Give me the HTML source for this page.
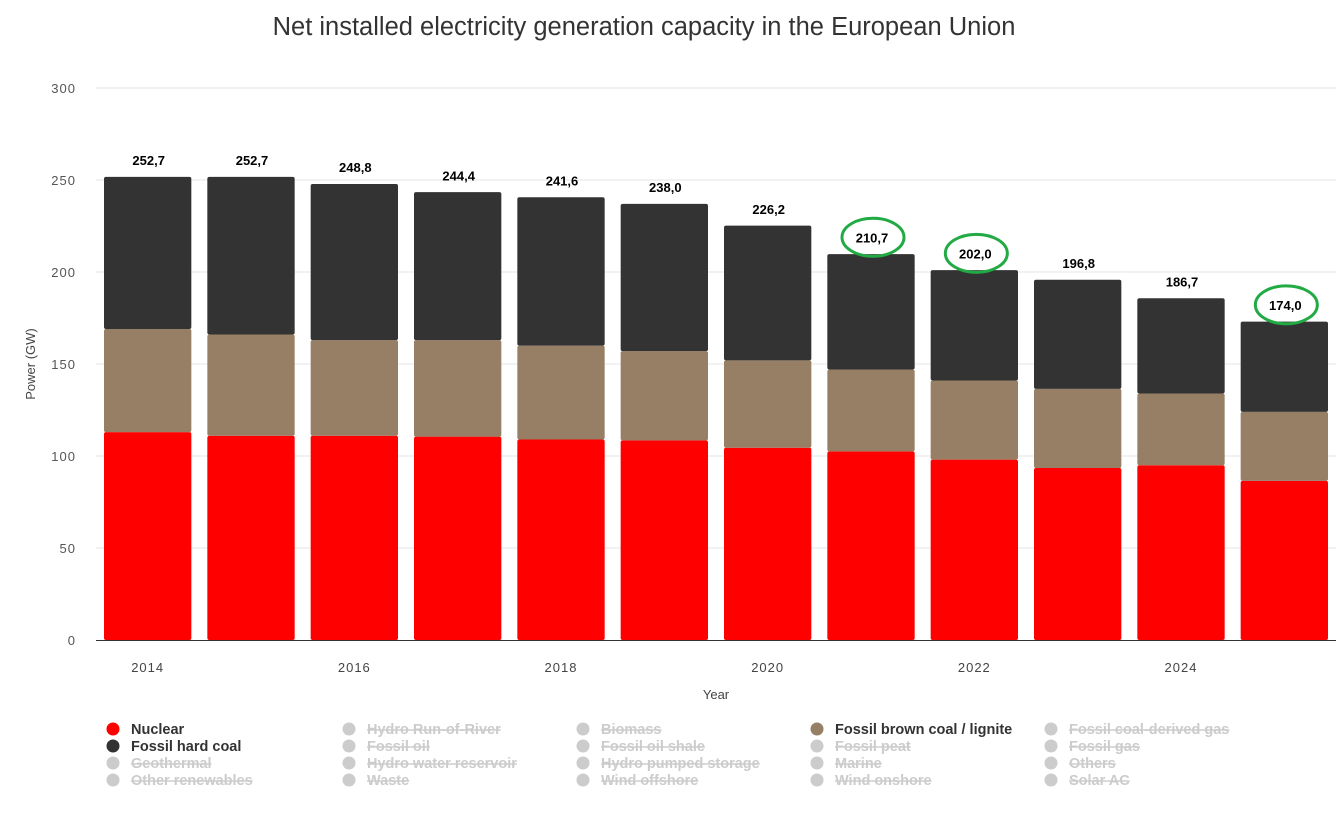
<!DOCTYPE html>
<html><head><meta charset="utf-8"><style>
body{margin:0;background:#fff;font-family:"Liberation Sans",sans-serif}
svg text{font-family:"Liberation Sans",sans-serif}
</style></head><body>
<svg id="c" width="1341" height="813">
<text x="644" y="35" text-anchor="middle" font-size="25.5" fill="#333">Net installed electricity generation capacity in the European Union</text>
<text transform="translate(35,364) rotate(-90)" text-anchor="middle" font-size="13" fill="#444">Power (GW)</text>
<text x="716" y="699" text-anchor="middle" font-size="13" fill="#444">Year</text>
<g id="grid"></g><g id="bars"></g><g id="labels"></g><g id="legend"></g>
</svg>
<script>
const years=[2014,2015,2016,2017,2018,2019,2020,2021,2022,2023,2024,2025];
const nuclear=[113,111,111,110.5,109,108.5,104.5,102.5,98,93.5,95,86.5];
const brown=[56,55,52,52.5,51,48.5,47.5,44.5,43,43,39,37.5];
const totals=[252.7,252.7,248.8,244.4,241.6,238.0,226.2,210.7,202.0,196.8,186.7,174.0];
const yTicks=[0,50,100,150,200,250,300];
const xTickLabels=["2014","2016","2018","2020","2022","2024"];
const circled=[2021,2022,2025];
const ns="http://www.w3.org/2000/svg";
const X0=96,X1=1336,Y0=640,YTOP=88,band=(X1-X0)/years.length;
const y=v=>Y0-(v/300)*(Y0-YTOP);
const xb=i=>X0+i*band;
function mk(t,a,p){const e=document.createElementNS(ns,t);for(const k in a)e.setAttribute(k,a[k]);p.appendChild(e);return e;}
const grid=document.getElementById('grid');
yTicks.forEach(v=>{
 if(v>0){const l=mk('line',{x1:X0,x2:X1,y1:y(v),y2:y(v),stroke:'#e6e6e6'},grid);
 
 }
 const t=mk('text',{x:76,y:y(v)+5,'text-anchor':'end','font-size':13,'letter-spacing':1,fill:'#555'},grid);t.textContent=v;
 
 
});
const ax=mk('line',{x1:X0,x2:X1,y1:Y0+0.5,y2:Y0+0.5,stroke:'#333'},grid);


xTickLabels.forEach(s=>{const i=years.indexOf(+s);
 const t=mk('text',{x:xb(i)+band/2,y:672,'text-anchor':'middle','font-size':13,'letter-spacing':1,fill:'#444'},grid);t.textContent=s;
 
 });
const bars=document.getElementById('bars'),labels=document.getElementById('labels');
years.forEach((yr,i)=>{
 const x=xb(i)+8,w=band-16;
 const n=nuclear[i],b=brown[i];
 const segs=[[0,n,'#ff0000','nuclear'],[n,n+b,'#977f65','brown-coal'],[n+b,totals[i]-1,'#333333','hard-coal']];
 segs.forEach(s=>{const r=mk('rect',{x:x,y:y(s[1]),width:w,height:y(s[0])-y(s[1]),fill:s[2],rx:2},bars);
  
  });
 const t=mk('text',{x:xb(i)+band/2+1,y:y(totals[i])-10,'text-anchor':'middle','font-size':13,'font-weight':'bold',fill:'#000'},labels);
 t.textContent=totals[i].toFixed(1).replace('.',',');
 
 
 if(circled.includes(yr)){const e=mk('ellipse',{cx:xb(i)+band/2+2,cy:y(totals[i])-15,rx:31,ry:19,fill:'none',stroke:'#22aa44','stroke-width':3},labels);
  
  }
});
const leg=[["Nuclear","#ff0000",1],["Hydro Run-of-River"],["Biomass"],["Fossil brown coal / lignite","#977f65",1],["Fossil coal-derived gas"],
["Fossil hard coal","#333",1],["Fossil oil"],["Fossil oil shale"],["Fossil peat"],["Fossil gas"],
["Geothermal"],["Hydro water reservoir"],["Hydro pumped storage"],["Marine"],["Others"],
["Other renewables"],["Waste"],["Wind offshore"],["Wind onshore"],["Solar AC"]];
const lg=document.getElementById('legend');const cols=[113,349,583,817,1051];
leg.forEach((l,k)=>{const cx=cols[k%5],cy=729+Math.floor(k/5)*17;
 const g=mk('g',{},lg);
 
 
 mk('circle',{cx:cx,cy:cy,r:6.5,fill:l[1]||'#ccc'},g);
 const t=mk('text',{x:cx+18,y:cy+5,'font-size':14.5,'font-weight':'bold',fill:l[2]?'#333':'#ccc','text-decoration':l[2]?'none':'line-through'},g);
 t.textContent=l[0];});
</script>
</body></html>
